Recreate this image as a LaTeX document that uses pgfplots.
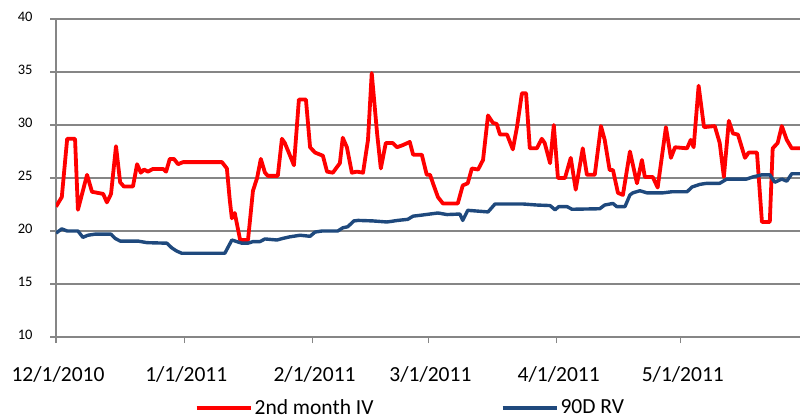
\documentclass[border=0pt]{standalone}
\usepackage{pgfplots}
\pgfplotsset{compat=1.18}
\usepackage{fontspec}
\setmainfont{Carlito}
\definecolor{ivred}{RGB}{255,0,0}
\definecolor{rvblue}{RGB}{31,73,125}
\definecolor{gridgray}{RGB}{134,134,134}
\begin{document}
\begin{tikzpicture}[x=1pt,y=1pt]
\path[use as bounding box] (0,0) rectangle (800,418);
\begin{axis}[
  at={(56pt,81pt)}, anchor=south west,
  scale only axis, width=744pt, height=318pt,
  xmin=0, xmax=179.8, ymin=10, ymax=40,
  axis x line*=bottom, axis y line*=left,
  axis line style={gridgray, line width=1.3pt},
  ytick={10,15,20,25,30,35,40},
  xtick={0,31,62,90,121,151},
  xticklabels={12/1/2010,1/1/2011,2/1/2011,3/1/2011,4/1/2011,5/1/2011},
  tick align=outside, major tick length=6pt,
  tick style={gridgray, line width=1.3pt},
  ymajorgrids, grid style={gridgray, line width=1.3pt},
  /pgf/number format/assume math mode=true,
  yticklabel style={font=\fontsize{14.5}{16}\selectfont, anchor=east, xshift=-14pt, yshift=2pt},
  xticklabel style={font=\fontsize{21.5}{24}\selectfont, anchor=north, yshift=-20pt, xshift=2pt},
  legend style={at={(0.182,-0.2217)}, anchor=west, draw=none, fill=none,
    font=\fontsize{21.5}{24}\selectfont, legend columns=2,
    /tikz/every even column/.append style={column sep=125pt}},
  legend image code/.code={\draw[#1, line width=4pt] (0pt,0pt) -- (54pt,0pt);},
  clip=true,
]
\addplot[ivred, line width=3.8pt, line join=round] coordinates {
(0,22.3) (1.4,23.2) (2.7,28.7) (4.6,28.7) (5.3,22.0) (7.5,25.3) (8.7,23.7)
(11.4,23.5) (12.3,22.7) (13.3,23.5) (14.5,28.0) (15.5,24.6) (16.4,24.2)
(18.6,24.2) (19.6,26.3) (20.5,25.5) (21.3,25.8) (22.2,25.6) (23.4,25.85)
(25.9,25.85) (26.6,25.6) (27.5,26.8) (28.5,26.8) (29.5,26.3) (30.7,26.5)
(40.1,26.5) (41.3,25.9) (42.0,22.9) (42.5,21.2) (43.2,21.7) (44.5,19.15)
(46.4,19.15) (47.6,23.8) (48.6,25.0) (49.5,26.8) (50.5,25.5) (51.2,25.2)
(53.6,25.2) (54.6,28.7) (55.3,28.3) (57.3,26.4) (57.5,26.2) (58.7,32.4)
(60.4,32.4) (61.4,27.9) (62.6,27.4) (64.5,27.1) (65.5,25.6) (66.9,25.5)
(68.6,26.4) (69.3,28.8) (70.3,27.9) (71.5,25.5) (72.7,25.6) (74.2,25.5)
(75.4,28.6) (76.3,34.9) (77.6,29.2) (78.5,25.9) (79.7,28.3) (81.4,28.3)
(82.4,27.9) (83.8,28.1) (85.5,28.4) (86.3,27.2) (88.4,27.2) (89.6,25.3)
(90.4,25.3) (91.1,24.5) (92.3,23.2) (93.5,22.6) (97.1,22.6) (98.3,24.3)
(99.5,24.5) (100.5,25.9) (102.0,25.8) (103.2,26.7) (104.4,30.9) (105.6,30.2)
(106.5,30.1) (107.3,29.1) (109.0,29.1) (110.4,27.7) (111.4,29.8) (112.6,33.0)
(113.6,33.0) (114.5,27.8) (116.2,27.8) (117.4,28.7) (118.1,28.3) (119.4,26.4)
(120.3,30.0) (121.3,25.0) (123.0,25.0) (124.4,26.9) (125.6,23.9) (127.3,27.8)
(128.3,25.3) (130.2,25.3) (131.7,29.9) (132.6,28.6) (133.8,25.75) (134.6,25.75)
(135.8,23.6) (137.0,23.4) (138.7,27.5) (140.4,24.5) (141.6,26.7) (142.3,25.1)
(144.2,25.1) (145.4,24.1) (147.4,29.8) (148.6,26.9) (149.6,27.9) (152.5,27.8)
(153.4,28.6) (154.1,27.9) (155.3,33.7) (156.6,29.8) (159.2,29.9) (160.4,28.3)
(161.4,25.1) (162.6,30.4) (163.6,29.2) (164.8,29.1) (166.5,26.9) (167.4,27.4)
(169.4,27.4) (170.6,20.85) (172.5,20.85) (173.2,27.8) (174.4,28.3) (175.4,29.9)
(176.6,28.6) (177.8,27.8) (179.8,27.8)
};
\addlegendentry{2nd month IV}
\addplot[rvblue, line width=3.4pt, line join=round] coordinates {
(0,19.8) (1.4,20.2) (2.7,20.0) (5.3,20.0) (6.5,19.4) (7.7,19.6) (9.4,19.7)
(13.3,19.7) (14.3,19.3) (15.5,19.05) (19.8,19.05) (22.0,18.9) (26.8,18.85)
(28.0,18.4) (29.2,18.1) (30.4,17.9) (40.8,17.9) (42.5,19.15) (43.7,19.0)
(44.9,18.85) (46.4,18.85) (47.6,19.0) (49.3,19.0) (50.5,19.25) (53.4,19.15)
(54.8,19.3) (56.5,19.45) (59.0,19.6) (61.4,19.5) (62.6,19.9) (64.3,20.0)
(68.1,20.0) (69.3,20.3) (70.5,20.4) (72.0,20.95) (73.0,21.0) (76.6,20.95)
(80.0,20.85) (82.6,21.0) (85.0,21.1) (86.3,21.4) (88.4,21.5) (92.3,21.7)
(94.5,21.55) (97.6,21.6) (98.3,21.0) (99.5,21.95) (104.4,21.8) (106.1,22.55)
(112.8,22.55) (116.2,22.45) (119.4,22.4) (120.6,22.0) (121.5,22.3) (123.5,22.3)
(124.7,22.05) (131.4,22.1) (132.6,22.45) (134.6,22.6) (135.5,22.3) (137.5,22.3)
(138.7,23.4) (139.4,23.6) (141.1,23.8) (142.8,23.6) (146.7,23.6) (148.8,23.7)
(152.5,23.7) (153.7,24.15) (155.6,24.4) (157.3,24.5) (160.4,24.5) (162.1,24.9)
(166.9,24.9) (168.4,25.1) (170.6,25.3) (172.5,25.3) (173.7,24.6) (175.4,24.9)
(176.6,24.7) (177.8,25.4) (179.8,25.4)
};
\addlegendentry{90D RV}
\end{axis}
\end{tikzpicture}
\end{document}
